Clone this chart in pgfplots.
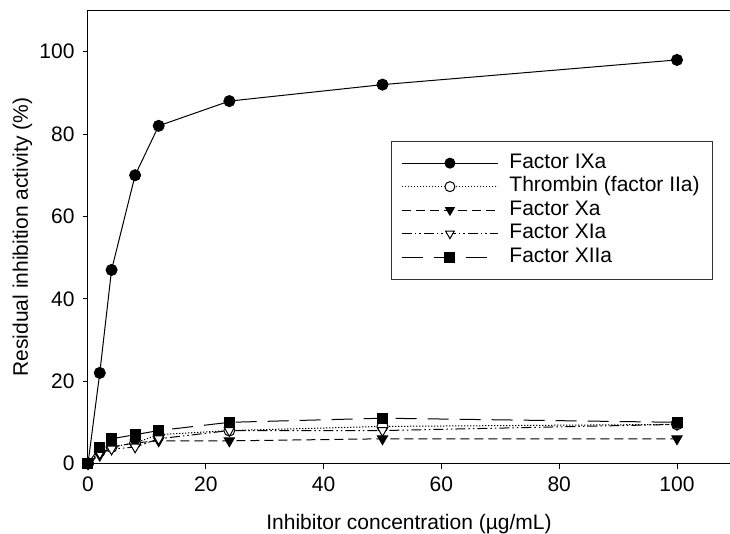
\documentclass[border=0pt]{standalone}
\usepackage{fontspec}
\setmainfont{Liberation Sans}
\usepackage{pgfplots}
\pgfplotsset{compat=1.18}
\usetikzlibrary{calc}
\newcommand{\fs}{\fontsize{21}{25}\selectfont}
\begin{document}
\begin{tikzpicture}
\begin{axis}[
  width=642pt, height=453pt, scale only axis,
  xmin=0, xmax=109, ymin=0, ymax=110,
  axis lines=left, axis line style={-, line width=1pt},
  tick align=outside, major tick length=5pt,
  tick style={line width=1pt, black},
  xtick={0,20,40,60,80,100}, ytick={0,20,40,60,80,100},
  /pgf/number format/assume math mode=true,
  tick label style={font=\fs},
  xticklabel shift=5pt,
  yticklabel style={xshift=-5pt},
  xlabel={Inhibitor concentration (µg/mL)},
  ylabel={Residual inhibition activity (\%)},
  xlabel style={font=\fs, at={(axis description cs:0.5,0)}, anchor=base, yshift=-65.5pt},
  ylabel style={font=\fs, at={(axis description cs:-0.0935,0.5)}, anchor=base, rotate=0},
  clip=false,
  after end axis/.code={\draw[line width=1pt] (rel axis cs:0,1) -- (rel axis cs:1,1);},
  legend style={at={(0.472,0.713)}, anchor=north west, draw=black!80, line width=0.8pt,
    font=\fs, inner xsep=10pt, inner ysep=10.5pt, row sep=0pt,
    nodes={inner ysep=1.5pt, inner xsep=3pt, text height=15.5pt, text depth=5pt}},
  legend cell align=left,
  legend image code/.code={\draw[mark repeat=2, mark phase=2, #1, mark size=5pt] plot coordinates {(0pt,0pt) (48pt,0pt) (96pt,0pt)} ++(8pt,0pt);},
]
\addplot[black, line width=1pt, mark=*, mark size=5.5pt, mark options={solid, fill=black}]
  coordinates {(0,0) (2,22) (4,47) (8,70) (12,82) (24,88) (50,92) (100,98)};
\addlegendentry{Factor IXa}
\addplot[black, line width=1pt, dash pattern=on 1.2pt off 1.8pt, mark=*, mark size=5.5pt, mark options={solid, fill=white}]
  coordinates {(0,0) (2,3) (4,4) (8,5) (12,7) (24,8) (50,9) (100,9.5)};
\addlegendentry{Thrombin (factor IIa)}
\addplot[black, line width=1pt, dash pattern=on 9pt off 5pt, mark=triangle*, mark size=5.8pt, mark options={solid, fill=black, rotate=180}]
  coordinates {(0,0) (2,2) (4,4) (8,5) (12,5.5) (24,5.5) (50,6) (100,6)};
\addlegendentry{Factor Xa}
\addplot[black, line width=1pt, dash pattern=on 10pt off 3pt on 1.5pt off 3pt on 1.5pt off 3pt, mark=triangle*, mark size=5.8pt, mark options={solid, fill=white, rotate=180}]
  coordinates {(0,0) (2,2.5) (4,3.5) (8,4) (12,6) (24,8) (50,8) (100,9.5)};
\addlegendentry{Factor XIa}
\addplot[black, line width=1pt, dash pattern=on 21pt off 11pt, mark=square*, mark size=5pt, mark options={solid, fill=black}]
  coordinates {(0,0) (2,4) (4,6) (8,7) (12,8) (24,10) (50,11) (100,10)};
\addlegendentry{Factor XIIa}
\end{axis}
\pgfresetboundingbox
\path ($(current axis.south west)+(-88pt,-70pt)$) rectangle ($(current axis.north east)+(0pt,10.5pt)$);
\end{tikzpicture}
\end{document}
